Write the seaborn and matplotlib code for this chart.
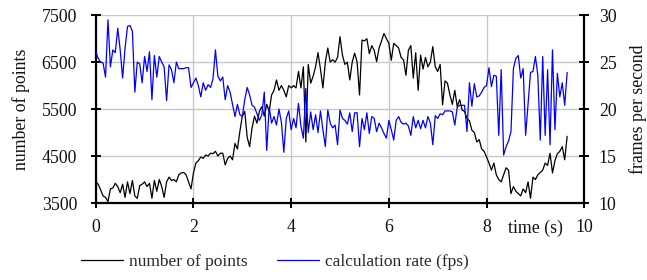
"""
Number of points vs. calculation rate over time (twin y axes).
"""

import matplotlib
matplotlib.use('Agg')
import matplotlib.pyplot as plt  # noqa: E402
import seaborn as sns  # noqa: E402
import numpy as np  # noqa: E402
import pandas as pd  # noqa: E402

# samples every 0.05 s, one row per second
sample_step = 0.05

n_points = (
    [3950, 3900, 3780, 3650, 3620, 3530, 3800, 3820, 3920, 3850,
     3720, 3900, 3620, 3950, 3700, 3980, 3650, 3600, 3870, 3900]
    + [3950, 3850, 3920, 3600, 3980, 3750, 4000, 3850, 3620, 3950,
       4050, 3980, 4000, 3950, 4100, 4140, 4150, 4100, 3950, 3800]
    + [4140, 4350, 4400, 4480, 4450, 4520, 4500, 4560, 4550, 4600,
       4500, 4560, 4560, 4310, 4450, 4500, 4420, 4770, 4650, 5020]
    + [5350, 5450, 4900, 4700, 5100, 5350, 5200, 5450, 5550, 5350,
       5600, 5450, 5800, 5900, 6120, 5900, 6000, 5900, 5760, 6000]
    + [5950, 6000, 5950, 6300, 5950, 6400, 4800, 6450, 6050, 6200,
       6400, 6700, 6350, 5950, 6500, 6800, 6500, 6550, 6500, 6600]
    + [7040, 6650, 6450, 6500, 6120, 6500, 6690, 6500, 5800, 6970,
       6950, 7000, 6680, 6850, 6750, 6510, 6800, 6950, 7110, 7000]
    + [6900, 6540, 6900, 6850, 6800, 6600, 6550, 6220, 6750, 6850,
       6160, 6700, 5900, 6650, 6350, 6600, 6400, 6500, 6830, 6400]
    + [6300, 6450, 5590, 6100, 6050, 5800, 5600, 5900, 5550, 5700,
       5480, 5450, 5300, 5250, 5050, 5000, 4800, 4850, 4650, 4600]
    + [4480, 4350, 4200, 4350, 4100, 4000, 3950, 4100, 4250, 4200,
       3700, 3850, 3750, 3700, 3650, 3800, 3720, 3950, 3600, 4050]
    + [4000, 4100, 4150, 4200, 4350, 4300, 4560, 4140, 4400, 4550,
       4600, 4700, 4420, 4920]
)

fps = (
    [26.1, 25.4, 25.0, 24.9, 23.4, 29.5, 24.5, 26.3, 26.0, 28.6,
     26.3, 23.3, 26.5, 28.8, 28.9, 28.3, 21.8, 25.0, 24.8, 22.8]
    + [25.6, 24.0, 26.1, 21.0, 25.7, 23.4, 25.6, 25.0, 24.5, 20.9,
       24.7, 24.2, 22.8, 25.0, 24.3, 24.3, 24.3, 24.4, 24.4, 22.3]
    + [22.8, 23.3, 22.5, 21.3, 22.8, 22.0, 22.6, 22.3, 23.2, 26.3,
       23.5, 23.0, 23.4, 21.0, 22.5, 21.8, 20.5, 19.2, 20.5, 19.4]
    + [19.2, 21.0, 22.3, 21.5, 20.4, 20.2, 19.5, 18.8, 19.4, 21.8,
       15.6, 20.2, 18.5, 19.2, 18.3, 20.0, 18.6, 15.4, 19.0, 19.8]
    + [17.8, 19.0, 18.0, 20.6, 18.2, 16.9, 22.2, 17.5, 19.7, 17.8,
       19.4, 17.5, 19.8, 17.8, 16.0, 19.9, 18.5, 18.0, 18.3, 16.2]
    + [19.9, 19.0, 18.8, 18.4, 19.6, 17.6, 19.6, 19.6, 16.0, 19.0,
       17.8, 19.6, 17.4, 19.2, 19.0, 17.6, 18.5, 18.0, 17.4, 16.9]
    + [18.8, 17.8, 16.7, 18.8, 19.2, 18.6, 18.4, 18.5, 18.2, 17.2,
       19.2, 18.0, 18.8, 17.9, 18.8, 18.0, 19.2, 18.5, 16.2, 19.3]
    + [19.0, 19.5, 19.4, 19.8, 19.8, 19.8, 19.7, 18.3, 20.2, 20.4,
       20.4, 20.4, 17.6, 22.8, 20.3, 22.7, 21.3, 21.4, 21.8, 22.3]
    + [22.5, 24.4, 22.4, 23.6, 23.5, 17.2, 24.2, 15.1, 16.0, 16.6,
       17.6, 24.3, 25.4, 25.7, 23.3, 24.3, 17.2, 20.6, 23.9, 24.0]
    + [25.6, 23.6, 16.7, 25.6, 17.2, 24.2, 16.2, 26.3, 17.8, 23.8,
       21.3, 22.8, 20.4, 23.9]
)

x_ticks = [0, 2, 4, 6, 8, 10]
left_ticks = [3500, 4500, 5500, 6500, 7500]
right_ticks = [10, 15, 20, 25, 30]

df = pd.DataFrame({
    'time': np.arange(len(n_points)) * sample_step,
    'points': n_points,
    'fps': fps,
})

sns.set_theme(style='white')
plt.rcParams['font.family'] = ['Liberation Serif', 'DejaVu Serif']

fig = plt.figure(figsize=(6.47, 2.80), dpi=100)
ax = fig.add_axes([0.148, 0.275, 0.755, 0.671])
ax2 = ax.twinx()

sns.lineplot(data=df, x='time', y='points', ax=ax, color='black',
             linewidth=0.9, label='number of points', legend=False)
sns.lineplot(data=df, x='time', y='fps', ax=ax2, color='#0000ff',
             linewidth=0.9, label='calculation rate (fps)', legend=False)

fs = 12.8
txt = '#111111'
ax.set_xlim(0, 10)
ax.set_ylim(3500, 7500)
ax2.set_ylim(10, 30)
ax.set_xticks(x_ticks)
ax.set_xticklabels([str(t) for t in x_ticks])
ax.set_yticks(left_ticks)
ax2.set_yticks(right_ticks)

ax.grid(True, color='#c8c8c8', linewidth=1.0)
ax2.grid(False)

for a in (ax, ax2):
    a.spines['top'].set_visible(False)
    for side in ('left', 'bottom', 'right'):
        a.spines[side].set_color('black')
        a.spines[side].set_linewidth(1.6)
ax.spines['right'].set_visible(False)
ax2.spines['left'].set_visible(False)
ax2.spines['bottom'].set_visible(False)

ax.tick_params(axis='both', direction='inout', length=7, width=1.4,
               color='black', labelsize=fs, labelcolor=txt)
ax.tick_params(axis='y', pad=10, left=True)
ax.tick_params(axis='x', pad=8, bottom=True)
ax2.tick_params(axis='y', direction='inout', length=7, width=1.4,
                color='black', labelsize=fs, labelcolor=txt,
                pad=7, right=True)

ax.set_xlabel('')
ax.set_ylabel('number of points', fontsize=fs, color=txt, labelpad=8)
ax2.set_ylabel('frames per second', fontsize=fs, color=txt, labelpad=9)

# x label sits on the tick-label row, between 8 and 10
ax.annotate('time (s)', xy=(9.0, 0), xycoords=('data', 'axes fraction'),
            xytext=(0, -18), textcoords='offset points',
            ha='center', va='center', fontsize=fs, color=txt)

handles = ax.get_lines()[:1] + ax2.get_lines()[:1]
labels = ['number of points', 'calculation rate (fps)']
fig.legend(handles, labels, loc='center', bbox_to_anchor=(0.425, 0.064),
           ncol=2, frameon=False, fontsize=12.5, handlelength=2.4,
           handletextpad=0.35, columnspacing=1.7)

fig.savefig('out.png', dpi=100)
plt.close(fig)
